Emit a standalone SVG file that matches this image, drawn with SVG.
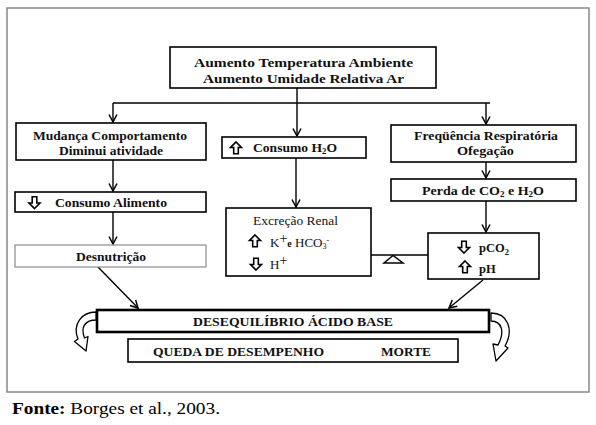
<svg xmlns="http://www.w3.org/2000/svg" xmlns:xlink="http://www.w3.org/1999/xlink" width="596" height="425" viewBox="0 0 596 425">
<style>
.box{fill:#fff;stroke:#000;stroke-width:1.6}
.thin{fill:#fff;stroke:#777;stroke-width:1}
.thick{fill:#fff;stroke:#000;stroke-width:2.6}
.b{font-family:"Liberation Serif","Times New Roman",serif;font-weight:bold;font-size:12.5px;fill:#111}
.r{font-family:"Liberation Serif","Times New Roman",serif;font-weight:normal;font-size:13px;fill:#111}
.cap{font-family:"Liberation Serif","Times New Roman",serif;font-size:17px;fill:#000}
.c{fill:none;stroke:#000;stroke-width:1.4}
.ico{fill:#fff;stroke:#000;stroke-width:1.6;stroke-linejoin:miter}
.curl{fill:#fff;stroke:#000;stroke-width:1.3;stroke-linejoin:round}
</style>
<defs>
<marker id="ah" markerUnits="userSpaceOnUse" markerWidth="10" markerHeight="10" viewBox="0 0 10 10" refX="9" refY="5" orient="auto">
<path d="M1.5,1 L9,5 L1.5,9" fill="none" stroke="#000" stroke-width="1.5"/>
</marker>
<path id="up" class="ico" d="M0,-6 L5.5,-0.5 L2.3,-0.5 L2.3,5.8 L-2.3,5.8 L-2.3,-0.5 L-5.5,-0.5 Z"/>
<path id="dn" class="ico" d="M0,6 L5.5,0.5 L2.3,0.5 L2.3,-5.8 L-2.3,-5.8 L-2.3,0.5 L-5.5,0.5 Z"/>
</defs>
<rect x="0" y="0" width="596" height="425" fill="#fff"/>
<rect x="7" y="8" width="582" height="384" fill="#fff" stroke="#888" stroke-width="1.5"/>

<g id="connectors">
<line class="c" x1="113" y1="103" x2="490" y2="103"/>
<line class="c" x1="297" y1="88" x2="297" y2="136" marker-end="url(#ah)"/>
<line class="c" x1="113" y1="103" x2="113" y2="122" marker-end="url(#ah)"/>
<line class="c" x1="486" y1="103" x2="486" y2="124" marker-end="url(#ah)"/>
<line class="c" x1="113" y1="160" x2="113" y2="191" marker-end="url(#ah)"/>
<line class="c" x1="113" y1="212" x2="113" y2="244" marker-end="url(#ah)"/>
<line class="c" x1="296" y1="158" x2="296" y2="207" marker-end="url(#ah)"/>
<line class="c" x1="486" y1="162" x2="486" y2="178" marker-end="url(#ah)"/>
<line class="c" x1="486" y1="201" x2="486" y2="232" marker-end="url(#ah)"/>
<line class="c" x1="371" y1="255" x2="428" y2="255"/>
<polygon points="393,255.5 384,263 403,263" fill="#fff" stroke="#000" stroke-width="1.5"/>
<line class="c" x1="98" y1="267" x2="138" y2="308" marker-end="url(#ah)"/>
<line class="c" x1="483" y1="280" x2="449" y2="308" marker-end="url(#ah)"/>
</g>

<g id="n-top">
<rect class="box" x="170" y="47" width="266" height="41"/>
<text class="b" x="194" y="66.5" font-size="13.5" textLength="219" lengthAdjust="spacingAndGlyphs">Aumento Temperatura Ambiente</text>
<text class="b" x="203" y="82.5" font-size="13.5" textLength="201" lengthAdjust="spacingAndGlyphs">Aumento Umidade Relativa Ar</text>
</g>

<g id="n-mudanca">
<rect class="box" x="16" y="123" width="190" height="37"/>
<text class="b" x="33" y="140" textLength="154" lengthAdjust="spacingAndGlyphs">Mudança Comportamento</text>
<text class="b" x="59" y="154.5" textLength="104" lengthAdjust="spacingAndGlyphs">Diminui atividade</text>
</g>

<g id="n-consumo-h2o">
<rect class="box" x="222" y="137" width="144" height="21"/>
<use xlink:href="#up" x="236" y="148"/>
<text class="b" x="253" y="152" textLength="84" lengthAdjust="spacingAndGlyphs">Consumo H<tspan font-size="8" dy="2">2</tspan><tspan dy="-2">O</tspan></text>
</g>

<g id="n-freq">
<rect class="box" x="391" y="125" width="185" height="37"/>
<text class="b" x="414" y="140" textLength="144" lengthAdjust="spacingAndGlyphs">Freqüência Respiratória</text>
<text class="b" x="457" y="154.5" textLength="57" lengthAdjust="spacingAndGlyphs">Ofegação</text>
</g>

<g id="n-perda">
<rect class="box" x="391" y="179" width="185" height="22"/>
<text class="b" x="422" y="195" textLength="122" lengthAdjust="spacingAndGlyphs">Perda de CO<tspan font-size="8" dy="2">2</tspan><tspan dy="-2"> e  H</tspan><tspan font-size="8" dy="2">2</tspan><tspan dy="-2">O</tspan></text>
</g>

<g id="n-consumo-alimento">
<rect class="box" x="15" y="192" width="191" height="20"/>
<use xlink:href="#dn" x="34.5" y="202.5"/>
<text class="b" x="55" y="206.5" textLength="112" lengthAdjust="spacingAndGlyphs">Consumo Alimento</text>
</g>

<g id="n-desnutricao">
<rect class="thin" x="15" y="245" width="191" height="22"/>
<text class="b" x="76" y="260.5" textLength="70" lengthAdjust="spacingAndGlyphs">Desnutrição</text>
</g>

<g id="n-excrecao">
<rect class="box" x="226" y="208" width="145" height="68"/>
<text class="r" x="253" y="224.5" textLength="85" lengthAdjust="spacingAndGlyphs">Excreção Renal</text>
<use xlink:href="#up" x="255" y="241"/>
<text class="r" x="270" y="247">K<tspan font-size="14" dy="-4">+</tspan><tspan font-size="10" font-weight="bold" dy="4">e</tspan><tspan> HCO</tspan><tspan font-size="8" dy="2">3</tspan><tspan font-size="8" dy="-6">-</tspan></text>
<use xlink:href="#dn" x="256" y="264"/>
<text class="r" x="270" y="269">H<tspan font-size="14" dy="-4">+</tspan></text>
</g>

<g id="n-pco2">
<rect class="box" x="428" y="233" width="111" height="46"/>
<use xlink:href="#dn" x="464" y="247"/>
<text class="b" x="479" y="252" font-size="13">pCO<tspan font-size="8.5" dy="3">2</tspan></text>
<use xlink:href="#up" x="465" y="267"/>
<text class="b" x="479" y="272.5" font-size="13">pH</text>
</g>

<g id="n-desequilibrio">
<rect class="thick" x="97" y="310" width="392" height="22"/>
<text class="b" x="193" y="325.5" font-size="13" textLength="200" lengthAdjust="spacingAndGlyphs">DESEQUILÍBRIO ÁCIDO BASE</text>
</g>

<g id="n-queda">
<rect class="box" x="128" y="339" width="330" height="23"/>
<text class="b" x="153" y="356" font-size="13" textLength="171" lengthAdjust="spacingAndGlyphs">QUEDA DE DESEMPENHO</text>
<text class="b" x="381" y="356" font-size="13" textLength="50" lengthAdjust="spacingAndGlyphs">MORTE</text>
</g>

<g id="curl-left">
<path class="curl" d="M96,312 C82,312 72,324 78,339 L74.5,341.5 L86,351 L88,336.5 L84.5,338 C80,326 86,320 96,320 Z"/>
</g>
<g id="curl-right">
<path class="curl" d="M491,313 C508,313 514,330 505,346 L508,348 L496,361 L493,344 L498,345 C505,332 502,321 491,321 Z"/>
</g>

<text class="cap" x="12" y="413.5" textLength="208" lengthAdjust="spacingAndGlyphs"><tspan font-weight="bold">Fonte:</tspan> Borges et al., 2003.</text>
</svg>
